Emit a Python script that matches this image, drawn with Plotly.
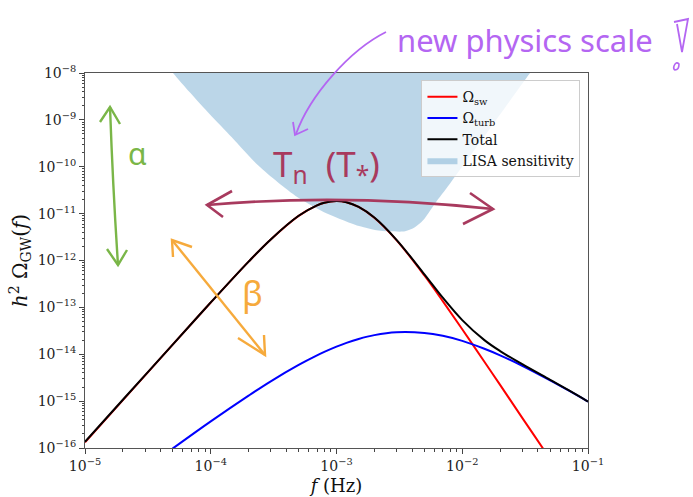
import plotly.graph_objects as go

# ---------------- data ----------------
freq = [1e-5, 2e-5, 5e-5, 1e-4, 2e-4, 3e-4, 5e-4, 7e-4, 8e-4, 1e-3, 1.2e-3, 1.5e-3,
        2e-3, 3e-3, 5e-3, 7e-3, 1e-2, 1.5e-2, 2e-2, 3e-2, 5e-2, 7e-2, 1e-1]
omega_sw = [1.32e-16, 1.05e-15, 1.62e-14, 1.27e-13, 9.46e-13, 2.82e-12, 8.98e-12, 1.50e-11,
            1.71e-11, 1.85e-11, 1.75e-11, 1.39e-11, 8.2e-12, 2.73e-12, 4.79e-13, 1.36e-13,
            3.42e-14, 6.94e-15, 2.22e-15, 4.4e-16, 5.8e-17, 1.5e-17, 3.6e-18]
omega_turb = [4.1e-18, 1.63e-17, 9.8e-17, 3.69e-16, 1.31e-15, 2.65e-15, 5.92e-15, 9.46e-15,
              1.12e-14, 1.45e-14, 1.75e-14, 2.12e-14, 2.56e-14, 2.95e-14, 2.85e-14, 2.47e-14,
              1.93e-14, 1.31e-14, 9.5e-15, 5.69e-15, 2.78e-15, 1.69e-15, 9.8e-16]
omega_total = [1.36e-16, 1.07e-15, 1.63e-14, 1.274e-13, 9.47e-13, 2.82e-12, 8.99e-12, 1.50e-11,
               1.71e-11, 1.85e-11, 1.75e-11, 1.39e-11, 8.23e-12, 2.76e-12, 5.08e-13, 1.61e-13,
               5.35e-14, 2.0e-14, 1.17e-14, 6.13e-15, 2.84e-15, 1.71e-15, 9.8e-16]

lisa_freq = [3.95e-5, 5.01e-5, 6.84e-5, 9.86e-5, 1.476e-4, 2.377e-4, 3.43e-4, 4.94e-4, 8.39e-4,
             1.54e-3, 2.02e-3, 2.66e-3, 3.51e-3, 4.2e-3, 4.88e-3, 6.07e-3, 8.0e-3, 1.66e-2,
             3.46e-2, 4.55e-2]
lisa_omega = [2.35e-8, 1.0e-8, 3.83e-9, 1.30e-9, 4.21e-10, 1.07e-10, 4.63e-11, 2.22e-11, 1.01e-11,
              5.35e-12, 4.5e-12, 4.19e-12, 4.19e-12, 5.1e-12, 7.18e-12, 1.65e-11, 4.4e-11, 6.55e-10,
              1.0e-8, 2.7e-8]
lisa_ceiling = 1e-5

x_tick_vals = [1e-5, 1e-4, 1e-3, 1e-2, 1e-1]
x_tick_labels = ["10<sup>−5</sup>", "10<sup>−4</sup>", "10<sup>−3</sup>", "10<sup>−2</sup>", "10<sup>−1</sup>"]
y_tick_vals = [1e-16, 1e-15, 1e-14, 1e-13, 1e-12, 1e-11, 1e-10, 1e-9, 1e-8]
y_tick_labels = ["10<sup>−16</sup>", "10<sup>−15</sup>", "10<sup>−14</sup>", "10<sup>−13</sup>",
                 "10<sup>−12</sup>", "10<sup>−11</sup>", "10<sup>−10</sup>", "10<sup>−9</sup>",
                 "10<sup>−8</sup>"]

series_names = ["Ω<sub>sw</sub>", "Ω<sub>turb</sub>", "Total", "LISA sensitivity"]

# ---------------- figure ----------------
SERIF = "DejaVu Serif"
fig = go.Figure()

fig.add_trace(go.Scatter(
    x=lisa_freq + [lisa_freq[-1], lisa_freq[0]],
    y=lisa_omega + [lisa_ceiling, lisa_ceiling],
    mode="lines", fill="toself", fillcolor="rgba(31,119,180,0.3)",
    line=dict(width=0, shape="spline", smoothing=0.8), name=series_names[3], legendrank=4,
    hoverinfo="skip"))
fig.add_trace(go.Scatter(x=freq, y=omega_sw, mode="lines", name=series_names[0],
                         line=dict(color="#ff0000", width=2, shape="spline"), legendrank=1))
fig.add_trace(go.Scatter(x=freq, y=omega_turb, mode="lines", name=series_names[1],
                         line=dict(color="#0000ff", width=2, shape="spline"), legendrank=2))
fig.add_trace(go.Scatter(x=freq, y=omega_total, mode="lines", name=series_names[2],
                         line=dict(color="#000000", width=2, shape="spline"), legendrank=3))

x_minor = [m * 10.0 ** k for k in range(-5, -1) for m in range(2, 10)]
y_minor = [m * 10.0 ** k for k in range(-16, -8) for m in range(2, 10)]

axis_common = dict(type="log", showgrid=False, zeroline=False, showline=True, mirror=True,
                   linecolor="#555", linewidth=1, ticks="outside", ticklen=5, tickwidth=1,
                   tickcolor="#444", tickfont=dict(family=SERIF, size=14, color="#222"),
                   automargin=False)

fig.update_xaxes(range=[-5, -1], tickmode="array", tickvals=x_tick_vals, ticktext=x_tick_labels,
                 minor=dict(tickmode="array", tickvals=x_minor, ticks="outside", ticklen=2.5,
                            tickwidth=0.8, tickcolor="#444"),
                 title=dict(text="<i>f</i> (Hz)", font=dict(family=SERIF, size=18, color="#111"),
                            standoff=6),
                 **axis_common)
fig.update_yaxes(range=[-16, -8], tickmode="array", tickvals=y_tick_vals, ticktext=y_tick_labels,
                 minor=dict(tickmode="array", tickvals=y_minor, ticks="outside", ticklen=2.5,
                            tickwidth=0.8, tickcolor="#444"),
                 title=dict(text="<i>h</i><sup>2</sup> Ω<sub>GW</sub>(<i>f</i>)",
                            font=dict(family=SERIF, size=20, color="#111"), standoff=4),
                 **axis_common)

# ---------------- hand-drawn annotations (pixel -> paper coordinates) ----------------
L, R, T, B = 85, 588, 73, 448


def px(x, y):
    return (x - L) / (R - L), (B - y) / (B - T)


def path_from(cmds):
    out = []
    for c in cmds:
        op, pts = c[0], c[1:]
        coords = " ".join("%.5f,%.5f" % px(*p) for p in pts)
        out.append(op + " " + coords)
    return " ".join(out)


shapes = []


def stroke(cmds, color, width=2.4):
    shapes.append(dict(type="path", xref="paper", yref="paper", path=path_from(cmds),
                       line=dict(color=color, width=width), layer="above"))


GREEN, ORANGE, MAROON, PURPLE = "#7ab648", "#f6aa3c", "#a83a5e", "#b466f2"

# purple "new physics scale" arrow
stroke([("M", (386, 32)), ("C", (350, 50), (310, 95), (296, 134))], PURPLE, 1.8)
stroke([("M", (293, 122)), ("L", (295, 135)), ("L", (308, 129))], PURPLE, 1.8)
# purple exclamation mark
stroke([("M", (674, 22)), ("L", (688, 19)), ("L", (682, 52)), ("L", (677, 24))], PURPLE, 1.8)
stroke([("M", (674, 66)), ("Q", (676, 61), (679, 64)), ("Q", (679, 70), (675, 70)),
        ("Q", (673, 69), (674, 66))], PURPLE, 1.6)
# maroon horizontal double arrow
stroke([("M", (207, 205)), ("Q", (345, 193), (493, 209))], MAROON, 2.6)
stroke([("M", (232, 191)), ("L", (207, 205)), ("L", (223, 217))], MAROON, 2.6)
stroke([("M", (470, 193)), ("L", (493, 209)), ("L", (463, 224))], MAROON, 2.6)
# green vertical double arrow
stroke([("M", (110, 107)), ("Q", (113, 190), (118, 265))], GREEN, 2.4)
stroke([("M", (100, 122)), ("L", (110, 107)), ("L", (120, 124))], GREEN, 2.4)
stroke([("M", (107, 249)), ("L", (118, 265)), ("L", (127, 250))], GREEN, 2.4)
# orange diagonal double arrow
stroke([("M", (172, 240)), ("L", (265, 355))], ORANGE, 2.4)
stroke([("M", (173, 257)), ("L", (172, 240)), ("L", (192, 247))], ORANGE, 2.4)
stroke([("M", (238, 338)), ("L", (265, 355)), ("L", (264, 335))], ORANGE, 2.4)

annotations = []


def label(text, x, y, color, size):
    ax, ay = px(x, y)
    annotations.append(dict(text=text, x=ax, y=ay, xref="paper", yref="paper", showarrow=False,
                            xanchor="center", yanchor="middle",
                            font=dict(family="Noto Sans", size=size, color=color)))


label("α", 137, 153, GREEN, 30)
label("β", 252, 293, ORANGE, 34)
label("T<sub>n</sub>  (T<sub>*</sub>)", 326, 165, MAROON, 35)
label("new physics scale", 525, 40, PURPLE, 31)

fig.update_layout(
    width=693, height=497,
    margin=dict(l=L, r=693 - R, t=T, b=497 - B, pad=0),
    paper_bgcolor="white", plot_bgcolor="white",
    showlegend=True,
    legend=dict(x=0.985, y=0.981, xanchor="right", yanchor="top",
                bgcolor="rgba(255,255,255,0.8)", bordercolor="#cccccc", borderwidth=1,
                font=dict(family=SERIF, size=14, color="#111"), tracegroupgap=0),
    shapes=shapes, annotations=annotations,
)

fig.write_html("out.html", config={"displayModeBar": False},
               post_script="document.body.style.margin='0px';document.body.style.overflow='hidden';")
